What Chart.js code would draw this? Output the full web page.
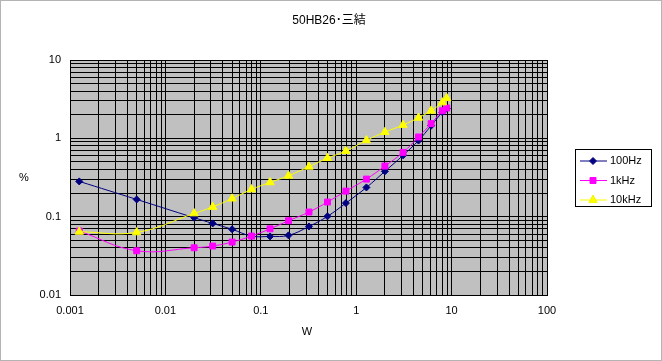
<!DOCTYPE html>
<html>
<head>
<meta charset="utf-8">
<script src="https://cdn.jsdelivr.net/npm/chart.js@4/dist/chart.umd.min.js"></script>
<style>
  body { margin: 0; background: #fff; }
  canvas { display: block; }
</style>
</head>
<body>
<canvas id="distChart" width="662" height="361"></canvas>
<script>
// output power (W) of each measurement
const xValues = [0.00125, 0.005, 0.02, 0.0313, 0.05, 0.08, 0.125, 0.195, 0.32, 0.5, 0.78, 1.28, 2, 3.1, 4.5, 6.1, 8, 8.9];

// distortion (%) per frequency
const hz100 = [0.282, 0.166, 0.097, 0.082, 0.069, 0.0565, 0.056, 0.0577, 0.075, 0.101, 0.149, 0.236, 0.379, 0.607, 0.937, 1.45, 2.15, 2.4];
const khz1 = [0.0655, 0.0367, 0.0401, 0.0422, 0.0474, 0.0565, 0.070, 0.0887, 0.1146, 0.1537, 0.212, 0.302, 0.443, 0.662, 1.04, 1.54, 2.25, 2.44];
const khz10 = [0.0641, 0.063, 0.110, 0.133, 0.170, 0.223, 0.274, 0.333, 0.434, 0.56, 0.689, 0.943, 1.2, 1.48, 1.83, 2.25, 2.87, 3.25];

const seriesNames = ['100Hz', '1kHz', '10kHz'];

// axis decades and their labels
const xDecades = [0.001, 0.01, 0.1, 1, 10, 100];
const xTickLabels = ['0.001', '0.01', '0.1', '1', '10', '100'];
const yDecades = [0.01, 0.1, 1, 10];
const yTickLabels = ['0.01', '0.1', '1', '10'];

const FONT = '"Liberation Sans", "Noto Sans CJK JP", Arial, sans-serif';

// 1..9 per decade, like the excel minor grid
function logTicks(decades) {
  const out = [];
  decades.forEach((d, i) => {
    if (i === decades.length - 1) {
      out.push({value: d});
      return;
    }
    for (let m = 1; m <= 9; m++) {
      out.push({value: m === 1 ? d : m * d});
    }
  });
  return out;
}

function toPoints(ys) {
  return ys.map((y, i) => ({x: xValues[i], y: y}));
}

const styles = [
  {color: '#000080', point: 'rectRot', radius: 3.5},
  {color: '#ff00ff', point: 'rect', radius: 4.2},
  {color: '#ffff00', point: 'triangle', radius: 4.8}
];

const plotBg = {
  id: 'plotBg',
  beforeDraw(chart) {
    const {ctx, chartArea: a} = chart;
    ctx.save();
    ctx.fillStyle = '#c0c0c0';
    ctx.fillRect(a.left, a.top, a.right - a.left, a.bottom - a.top);
    ctx.restore();
  }
};

const extras = {
  id: 'extras',
  afterDraw(chart) {
    const ctx = chart.ctx;
    ctx.save();
    // outer frame
    ctx.strokeStyle = '#b4b4b4';
    ctx.lineWidth = 1;
    ctx.strokeRect(0.5, 0.5, 661, 360);

    ctx.fillStyle = '#000';
    ctx.textAlign = 'center';
    ctx.textBaseline = 'middle';
    ctx.font = '12px ' + FONT;
    ctx.fillText('50HB26･三結', 329, 21);
    ctx.font = '11px ' + FONT;
    ctx.fillText('%', 24, 178);
    ctx.fillText('W', 307, 332);

    // legend box
    const bx = 575.5, by = 149.5, bw = 76, bh = 57;
    ctx.fillStyle = '#fff';
    ctx.fillRect(bx, by, bw, bh);
    ctx.strokeStyle = '#000';
    ctx.strokeRect(bx, by, bw, bh);
    seriesNames.forEach((name, i) => {
      const y = 161 + i * 19.5;
      const s = styles[i];
      ctx.strokeStyle = s.color;
      ctx.beginPath();
      ctx.moveTo(580, y);
      ctx.lineTo(607, y);
      ctx.stroke();
      Chart.helpers.drawPoint(ctx, {pointStyle: s.point, radius: s.radius, borderWidth: 1}, 593, y);
      ctx.fillStyle = s.color;
      ctx.fill();
      ctx.fillStyle = '#000';
      ctx.textAlign = 'left';
      ctx.font = '11px ' + FONT;
      ctx.fillText(name, 610, y);
    });
    ctx.restore();
  }
};

const ctx = document.getElementById('distChart').getContext('2d');
new Chart(ctx, {
  type: 'line',
  data: {
    datasets: [hz100, khz1, khz10].map((ys, i) => ({
      label: seriesNames[i],
      data: toPoints(ys),
      borderColor: styles[i].color,
      backgroundColor: styles[i].color,
      pointBackgroundColor: styles[i].color,
      pointBorderColor: styles[i].color,
      pointStyle: styles[i].point,
      pointRadius: styles[i].radius,
      borderWidth: 1,
      tension: 0.4,
      order: 3 - i
    }))
  },
  options: {
    responsive: false,
    animation: false,
    devicePixelRatio: 1,
    layout: {padding: {top: 60, right: 115, left: 0, bottom: 0}},
    plugins: {
      legend: {display: false},
      title: {display: false},
      tooltip: {enabled: false}
    },
    scales: {
      x: {
        type: 'logarithmic',
        min: 0.001,
        max: 100,
        afterBuildTicks: s => { s.ticks = logTicks(xDecades); },
        afterFit: s => { s.height = 66; },
        grid: {color: '#000', lineWidth: 1, drawTicks: false},
        border: {color: '#000', width: 1},
        ticks: {
          autoSkip: false,
          maxRotation: 0,
          padding: 9,
          color: '#000',
          font: {family: FONT, size: 11},
          callback: v => {
            const k = xDecades.indexOf(v);
            return k >= 0 ? xTickLabels[k] : '';
          }
        }
      },
      y: {
        type: 'logarithmic',
        min: 0.01,
        max: 10,
        afterBuildTicks: s => { s.ticks = logTicks(yDecades); },
        afterFit: s => { s.width = 70; },
        grid: {color: '#000', lineWidth: 1, drawTicks: false},
        border: {color: '#000', width: 1},
        ticks: {
          autoSkip: false,
          padding: 9,
          color: '#000',
          font: {family: FONT, size: 11},
          callback: v => {
            const k = yDecades.indexOf(v);
            return k >= 0 ? yTickLabels[k] : '';
          }
        }
      }
    }
  },
  plugins: [plotBg, extras]
});
</script>
</body>
</html>
